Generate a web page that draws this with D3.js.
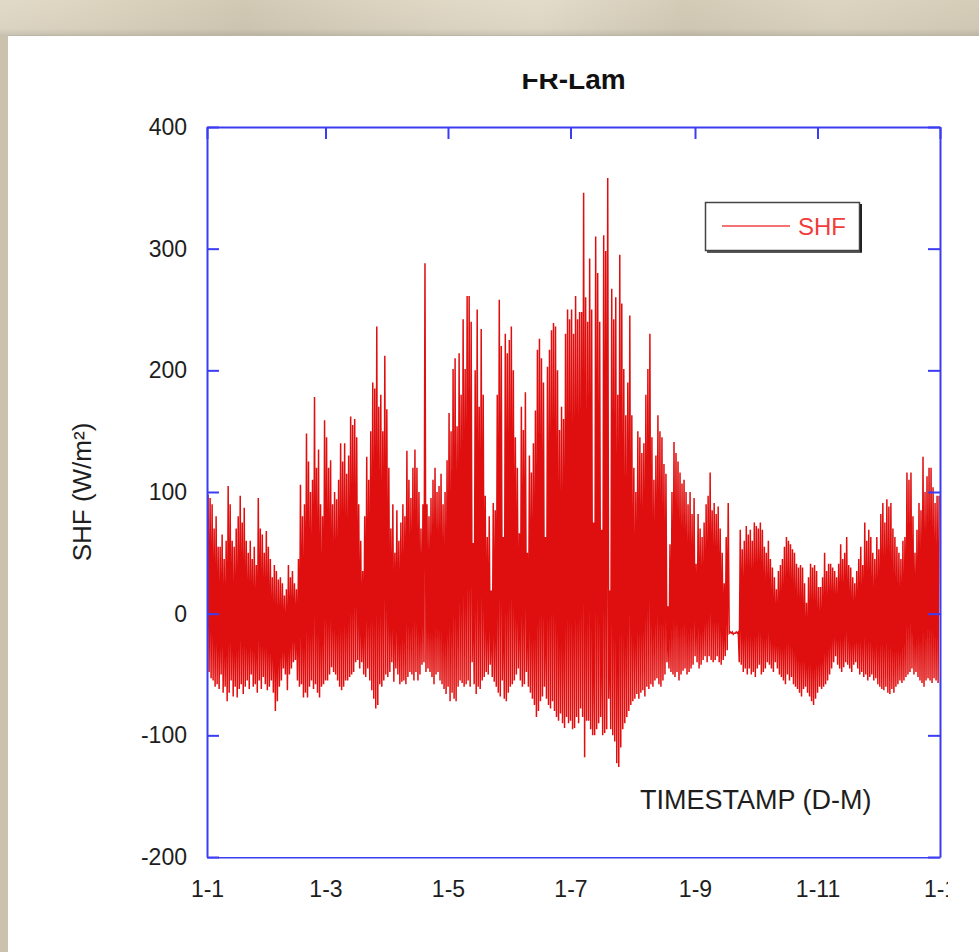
<!DOCTYPE html>
<html>
<head>
<meta charset="utf-8">
<script src="https://cdn.jsdelivr.net/npm/d3@7"></script>
<style>
  html, body { margin: 0; padding: 0; background: #ffffff; }
  svg { display: block; }
  text { font-family: "Liberation Sans", Arial, sans-serif; }
</style>
</head>
<body>
<svg id="chart" width="979" height="952"></svg>
<script>
// ---- Data (daily maximum / minimum of half-hourly SHF, W/m²) ----
const chartTitle = "FR-Lam";
const seriesName = "SHF";
const yLabel = "SHF (W/m²)";
const xLabel = "TIMESTAMP (D-M)";
const yTicks = [-200, -100, 0, 100, 200, 300, 400];
const yTickLabels = ["-200", "-100", "0", "100", "200", "300", "400"];
const xTickMonths = [0, 2, 4, 6, 8, 10, 12];
const xTickLabels = ["1-1", "1-3", "1-5", "1-7", "1-9", "1-11", "1-1"];

const shfMax = [
  98, 95, 90, 70, 80, 55, 55, 65, 45, 60,
  105, 90, 60, 55, 70, 80, 97, 75, 87, 60,
  50, 60, 45, 55, 40, 95, 70, 65, 50, 68,
  55, 45, 30, 40, 35, 28, 30, 25, 15, 20,
  40, 30, 35, 25, 20, 45, 106, 80, 90, 148,
  125, 100, 110, 178, 120, 135, 90, 80, 159, 145,
  120, 126, 90, 100, 94, 110, 140, 125, 140, 115,
  130, 162, 155, 160, 145, 90, 60, 35, 80, 129,
  110, 150, 190, 185, 236, 170, 180, 150, 212, 168,
  120, 70, 90, 50, 85, 60, 75, 90, 80, 134,
  110, 95, 120, 135, 120, 100, 70, 90, 288, 90,
  80, 95, 110, 120, 100, 105, 115, 90, 100, 126,
  165, 150, 201, 210, 154, 214, 180, 242, 201, 261,
  261, 240, 58, 200, 250, 170, 234, 180, 97, 63,
  80, 19, 91, 85, 180, 258, 220, 63, 230, 214,
  225, 236, 200, 145, 120, 66, 170, 151, 182, 50,
  130, 116, 140, 167, 217, 226, 210, 190, 63, 203,
  217, 233, 239, 236, 200, 151, 170, 160, 230, 250,
  242, 250, 230, 261, 242, 248, 248, 346, 260, 240,
  292, 250, 75, 310, 280, 240, 69, 311, 298, 358,
  19, 267, 242, 260, 180, 295, 255, 201, 163, 190,
  245, 163, 120, 100, 150, 145, 132, 140, 180, 201,
  230, 145, 110, 130, 163, 150, 145, 123, 115, 6,
  57, 100, 141, 132, 125, 116, 107, 110, 100, 90,
  100, 82, 95, 41, 82, 70, 63, 75, 90, 97,
  116, 85, 91, 82, 88, 70, 50, 25, 63, 91,
  -15, -15, -16, -15, -15, 69, 53, 60, 72, 65,
  69, 60, 75, 72, 70, 75, 69, 55, 50, 60,
  45, 38, 30, 20, 35, 40, 45, 55, 63, 60,
  57, 53, 50, 41, 38, 40, 38, 25, 9, 30,
  41, 38, 40, 35, 22, 22, 30, 50, 35, 41,
  41, 38, 35, 30, 41, 57, 45, 50, 63, 40,
  38, 30, 25, 35, 45, 55, 40, 75, 60, 69,
  63, 50, 45, 63, 53, 82, 91, 75, 94, 88,
  91, 70, 63, 55, 50, 45, 60, 63, 116, 110,
  116, 80, 50, 69, 91, 85, 129, 100, 113, 120,
  120, 104, 91, 97, 97
];
const shfMin = [
  -44, -48, -53, -55, -60, -58, -62, -50, -65, -60,
  -72, -65, -55, -68, -60, -69, -62, -58, -66, -60,
  -55, -62, -50, -60, -58, -65, -55, -62, -52, -58,
  -63, -60, -55, -65, -80, -72, -60, -55, -45, -50,
  -63, -50, -45, -40, -38, -55, -60, -58, -69, -65,
  -69, -60, -55, -62, -58, -65, -69, -60, -58, -55,
  -55, -50, -44, -48, -50, -55, -60, -63, -60, -55,
  -55, -52, -50, -48, -40, -38, -45, -40, -50, -52,
  -45, -55, -63, -70, -78, -75, -58, -60, -55, -50,
  -52, -48, -40, -56, -45, -50, -58, -56, -55, -58,
  -52, -48, -50, -55, -48, -55, -50, -42, -40, -48,
  -45, -48, -52, -58, -50, -48, -55, -58, -62, -66,
  -60, -72, -65, -70, -72, -60, -55, -57, -60, -58,
  -55, -60, -40, -58, -66, -60, -62, -55, -52, -48,
  -50, -42, -52, -56, -60, -65, -68, -55, -70, -72,
  -65, -60, -58, -55, -50, -45, -55, -60, -58, -48,
  -60, -65, -70, -75, -85, -80, -72, -68, -60, -70,
  -75, -78, -72, -80, -85, -88, -82, -90, -94, -85,
  -90, -88, -95, -94, -85, -90, -78, -85, -118, -88,
  -88, -95, -100, -100, -95, -90, -85, -100, -98, -95,
  -70, -95, -100, -105, -123, -126, -110, -95, -90, -85,
  -80, -75, -72, -70, -66, -70, -65, -63, -68, -60,
  -62, -58, -60, -55, -53, -58, -60, -55, -50, -40,
  -45, -48, -50, -52, -48, -55, -50, -47, -45, -50,
  -48, -45, -42, -35, -40, -45, -42, -38, -35, -40,
  -35, -38, -40, -38, -35, -40, -42, -38, -35, -30,
  -16, -16, -17, -16, -16, -40, -42, -48, -45, -50,
  -45, -50, -48, -52, -45, -42, -50, -48, -45, -40,
  -42, -45, -48, -40, -45, -50, -52, -55, -58, -50,
  -55, -52, -58, -60, -62, -65, -68, -62, -60, -65,
  -68, -72, -75, -70, -65, -60, -62, -60, -58, -55,
  -50, -45, -40, -35, -42, -45, -48, -44, -40, -42,
  -45, -48, -42, -40, -45, -50, -48, -52, -50, -55,
  -52, -50, -55, -53, -58, -60, -62, -63, -60, -65,
  -66, -62, -65, -60, -58, -55, -57, -55, -52, -50,
  -48, -45, -50, -48, -52, -55, -57, -60, -55, -53,
  -55, -57, -53, -55, -57
];

// ---- Layout ----
const svg = d3.select("#chart");
const W = 979, H = 952;
const plot = { left: 207, right: 940, top: 127, bottom: 857 };
const axisColor = "#3c3cf2";
const lineColor = "#e00f0f";
const year = 2007;

// Background: screenshot frame
const defs = svg.append("defs");
const grad = defs.append("linearGradient").attr("id", "topband").attr("x1", 0).attr("x2", 1).attr("y1", 0).attr("y2", 0);
[["0%", "#e2dac8"], ["10%", "#ddd4c0"], ["25%", "#d2c9b5"], ["45%", "#e0d8c5"], ["55%", "#e3dcca"],
 ["70%", "#d4cbb7"], ["85%", "#ddd5c1"], ["100%", "#d6cdb9"]].forEach(s =>
  grad.append("stop").attr("offset", s[0]).attr("stop-color", s[1]));
const vgrad = defs.append("linearGradient").attr("id", "topshade").attr("x1", 0).attr("x2", 0).attr("y1", 0).attr("y2", 1);
vgrad.append("stop").attr("offset", "0%").attr("stop-color", "#000").attr("stop-opacity", 0);
vgrad.append("stop").attr("offset", "80%").attr("stop-color", "#000").attr("stop-opacity", 0.03);
vgrad.append("stop").attr("offset", "100%").attr("stop-color", "#000").attr("stop-opacity", 0.12);

svg.append("rect").attr("x", 0).attr("y", 0).attr("width", W).attr("height", H).attr("fill", "#cfc6b3");
svg.append("rect").attr("x", 0).attr("y", 0).attr("width", W).attr("height", 36).attr("fill", "url(#topband)");
svg.append("rect").attr("x", 0).attr("y", 0).attr("width", W).attr("height", 36).attr("fill", "url(#topshade)");
svg.append("rect").attr("x", 0).attr("y", 36).attr("width", 7).attr("height", H - 36).attr("fill", "#cbc2ae");
svg.append("rect").attr("x", 7).attr("y", 35).attr("width", W - 7).attr("height", H - 35).attr("fill", "#ffffff");
svg.append("line").attr("x1", 7).attr("x2", W).attr("y1", 35.5).attr("y2", 35.5).attr("stroke", "#bdb6a6").attr("stroke-width", 1);
svg.append("line").attr("x1", 7.5).attr("x2", 7.5).attr("y1", 35).attr("y2", H).attr("stroke", "#c9c2b2").attr("stroke-width", 1);

// ---- Scales ----
const x = d3.scaleTime()
  .domain([new Date(year, 0, 1), new Date(year + 1, 0, 1)])
  .range([plot.left, plot.right]);
const y = d3.scaleLinear().domain([-200, 400]).range([plot.bottom, plot.top]);

const dayToDate = d => new Date(year, 0, 1 + Math.floor(d), (d % 1) * 24);

// ---- Series (daily cycle: minimum then daytime maximum) ----
const pts = [];
shfMax.forEach((mx, i) => {
  pts.push({ t: dayToDate(i + 0.05), v: shfMin[i] });
  pts.push({ t: dayToDate(i + 0.55), v: mx });
});

defs.append("clipPath").attr("id", "plotclip").append("rect")
  .attr("x", plot.left).attr("y", plot.top)
  .attr("width", plot.right - plot.left).attr("height", plot.bottom - plot.top);

svg.append("path")
  .datum(pts)
  .attr("clip-path", "url(#plotclip)")
  .attr("fill", "none")
  .attr("stroke", lineColor)
  .attr("stroke-width", 1.5)
  .attr("stroke-linejoin", "miter")
  .attr("d", d3.line().x(d => x(d.t)).y(d => y(d.v)));

// ---- Axes ----
const monthTicks = xTickMonths.map(m => new Date(year, m, 1));
const styleAxis = g => {
  g.select(".domain").attr("stroke", axisColor).attr("stroke-width", 2);
  g.selectAll(".tick line").attr("stroke", axisColor).attr("stroke-width", 2);
  g.selectAll(".tick text").attr("fill", "#1e1e1e")
    .style("font-family", "'Liberation Sans', Arial, sans-serif").style("font-size", "23px");
};

svg.append("g").attr("transform", `translate(${plot.left},0)`)
  .call(d3.axisLeft(y).tickValues(yTicks).tickSizeInner(-12).tickSizeOuter(0).tickPadding(20)
    .tickFormat((d, i) => yTickLabels[i]))
  .call(styleAxis);
svg.append("g").attr("transform", `translate(${plot.right},0)`)
  .call(d3.axisRight(y).tickValues(yTicks).tickSizeInner(-12).tickSizeOuter(0).tickFormat(""))
  .call(styleAxis);
svg.append("g").attr("transform", `translate(0,${plot.top})`)
  .call(d3.axisTop(x).tickValues(monthTicks).tickSizeInner(-12).tickSizeOuter(0).tickFormat(""))
  .call(styleAxis);

defs.append("clipPath").attr("id", "xlabclip").append("rect")
  .attr("x", 0).attr("y", 0).attr("width", 948).attr("height", H);
svg.append("g").attr("transform", `translate(0,${plot.bottom})`)
  .attr("clip-path", "url(#xlabclip)")
  .call(d3.axisBottom(x).tickValues(monthTicks).tickSizeInner(-12).tickSizeOuter(0).tickPadding(24)
    .tickFormat((d, i) => xTickLabels[i]))
  .call(styleAxis);

// ---- Title (top partly hidden, as in the screenshot) ----
defs.append("clipPath").attr("id", "titleclip").append("rect")
  .attr("x", 0).attr("y", 74).attr("width", W).attr("height", 40);
svg.append("text")
  .attr("clip-path", "url(#titleclip)")
  .attr("x", (plot.left + plot.right) / 2).attr("y", 89)
  .attr("text-anchor", "middle")
  .style("font-size", "28px").style("font-weight", "bold").attr("fill", "#111")
  .text(chartTitle);

// ---- Axis labels ----
svg.append("text")
  .attr("transform", "translate(91,492) rotate(-90)")
  .attr("text-anchor", "middle")
  .style("font-size", "26px").attr("fill", "#1e1e1e")
  .text(yLabel);
svg.append("text")
  .attr("x", 640).attr("y", 809)
  .style("font-size", "27px").attr("fill", "#1e1e1e")
  .text(xLabel);

// ---- Legend ----
const lg = svg.append("g");
lg.append("rect").attr("x", 705.5).attr("y", 202.5).attr("width", 154).attr("height", 48)
  .attr("fill", "#fff").attr("stroke", "#444").attr("stroke-width", 1.5);
lg.append("line").attr("x1", 861).attr("x2", 861).attr("y1", 204).attr("y2", 252).attr("stroke", "#222").attr("stroke-width", 2);
lg.append("line").attr("x1", 707).attr("x2", 862).attr("y1", 252).attr("y2", 252).attr("stroke", "#222").attr("stroke-width", 1.5);
lg.append("line").attr("x1", 722).attr("x2", 790).attr("y1", 226).attr("y2", 226)
  .attr("stroke", "#f04444").attr("stroke-width", 1.5);
lg.append("text").attr("x", 798).attr("y", 235)
  .style("font-size", "24px").attr("fill", "#f03c3c")
  .text(seriesName);
</script>
</body>
</html>
